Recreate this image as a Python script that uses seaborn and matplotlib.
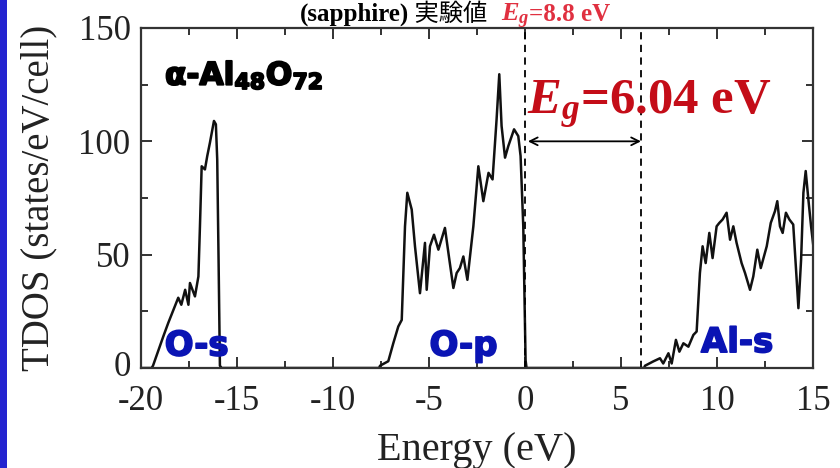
import matplotlib
matplotlib.use("Agg")
import matplotlib.pyplot as plt
from matplotlib.ticker import MultipleLocator
from matplotlib.patches import Rectangle
import matplotlib.transforms as mtransforms
import matplotlib.patheffects as pe
import seaborn as sns
import pandas as pd

# ---- data ----
energy = [-20.0, -19.45, -19.375, -18.84, -18.58, -18.06, -17.9, -17.7, -17.53, -17.45,
          -17.19, -17.01, -16.93, -16.84, -16.67, -16.55, -16.41, -16.2, -16.1, -16.03,
          -15.96, -15.89, -15.8, -7.6, -7.55, -7.12, -6.86, -6.6, -6.42, -6.25, -6.13,
          -5.9, -5.73, -5.47, -5.21, -5.12, -4.95, -4.74, -4.51, -4.17, -3.94, -3.73,
          -3.56, -3.39, -3.21, -3.0, -2.69, -2.43, -2.17, -1.9, -1.69, -1.48, -1.34,
          -1.22, -1.04, -0.87, -0.57, -0.35, -0.23, -0.09, 0.03, 0.08, 6.2, 6.25, 6.68,
          7.03, 7.2, 7.47, 7.64, 7.86, 8.04, 8.25, 8.51, 8.77, 8.94, 9.11, 9.25, 9.41,
          9.6, 9.77, 9.98, 10.12, 10.29, 10.5, 10.68, 10.85, 11.02, 11.28, 11.46, 11.72,
          11.89, 12.1, 12.28, 12.59, 12.8, 13.02, 13.14, 13.28, 13.42, 13.59, 13.77,
          13.97, 14.15, 14.24, 14.38, 14.5, 14.62, 14.76, 14.9, 15.02]
tdos = [0.0, 0.0, 1.0, 13.9, 19.9, 31.0, 27.9, 34.5, 27.9, 37.5,
        31.6, 40.4, 62.5, 89.0, 87.6, 93.5, 99.4, 109.0, 107.5, 92.0,
        47.8, 1.0, 0.0, 0.0, 1.0, 3.0, 10.9, 18.3, 21.2, 62.5, 77.3,
        69.9, 53.7, 33.0, 55.2, 34.5, 53.7, 58.8, 52.2, 61.8, 47.8, 35.3,
        41.9, 44.1, 49.2, 38.9, 62.5, 89.0, 73.6, 86.1, 83.2, 109.7, 129.6,
        106.8, 92.8, 97.9, 105.3, 102.3, 93.5, 62.5, 3.5, 0.0, 0.0, 1.0, 2.9,
        4.3, 2.0, 6.5, 2.0, 12.4, 7.2, 10.9, 9.4, 14.6, 16.1, 41.9, 53.7, 46.3,
        59.6, 48.5, 62.5, 64.0, 65.5, 68.5, 56.6, 62.5, 55.2, 46.3, 41.9, 34.5,
        40.4, 52.2, 44.1, 53.7, 64.0, 69.2, 73.6, 62.5, 59.6, 68.5, 65.5,
        63.3, 38.9, 26.4, 47.8, 77.3, 86.9, 74.3, 62.5, 53.7]

band_edges = [0.0, 6.04]          # VBM and CBM (dashed lines)
gap_value = 6.04
band_labels = ["O-s", "O-p", "Al-s"]
band_label_x = [-17.1, -3.2, 11.05]
band_label_y = [5.5, 5.5, 7.0]
x_ticks = [-20, -15, -10, -5, 0, 5, 10, 15]
y_ticks = [0, 50, 100, 150]

df = pd.DataFrame({"Energy": energy, "TDOS": tdos})

sns.set_theme(style="ticks")
plt.rcParams["font.family"] = ["Liberation Serif", "Noto Sans CJK JP", "DejaVu Sans"]
plt.rcParams["mathtext.fontset"] = "custom"
plt.rcParams["mathtext.it"] = "Liberation Serif:italic:bold"
plt.rcParams["mathtext.rm"] = "Liberation Serif:bold"
plt.rcParams["mathtext.bf"] = "Liberation Serif:bold"
plt.rcParams["mathtext.sf"] = "DejaVu Sans:bold"

fig = plt.figure(figsize=(8.4, 4.68), dpi=100)
fig.patch.set_facecolor("white")
ax = fig.add_axes([141 / 840, 100 / 468, 672 / 840, 340 / 468])

sns.lineplot(data=df, x="Energy", y="TDOS", ax=ax, color="#111111",
             linewidth=1.8, estimator=None, sort=False)

for e in band_edges:
    ax.axvline(e, color="black", linestyle=(0, (4, 3)), linewidth=1.3)

ax.annotate("", xy=(0.15, 100), xytext=(gap_value, 100),
            arrowprops=dict(arrowstyle="<->", color="black", lw=1.3,
                            shrinkA=0, shrinkB=0, mutation_scale=14))

ax.text(0.12, 112, r"$E_g$=6.04 eV", color="#c40d18", fontsize=36.5,
        fontweight="bold", family="Liberation Serif", ha="left", va="baseline")

heavy_black = [pe.withStroke(linewidth=1.4, foreground="black")]
ax.text(-18.75, 125, r"α-Al$_{\mathsf{48}}$O$_{\mathsf{72}}$", color="black",
        fontsize=22.5, fontweight="bold", family="DejaVu Sans", ha="left",
        va="baseline", path_effects=heavy_black)

heavy_blue = [pe.withStroke(linewidth=1.2, foreground="#0a14b4")]
for lab, lx, ly in zip(band_labels, band_label_x, band_label_y):
    ax.text(lx, ly, lab, color="#0a14b4", fontsize=24.5, fontweight="bold",
            family="DejaVu Sans", ha="center", va="baseline", path_effects=heavy_blue)

ax.set_xlim(-20, 15)
ax.set_ylim(0, 150)
ax.set_xticks(x_ticks)
ax.set_yticks(y_ticks)
ax.set_xticklabels([str(t) for t in x_ticks])
ax.xaxis.set_minor_locator(MultipleLocator(2.5))
ax.yaxis.set_minor_locator(MultipleLocator(25))
ax.tick_params(which="both", direction="in", top=True, right=True,
               width=1.3, colors="#222222", labelsize=25)
ax.tick_params(which="major", length=8)
ax.tick_params(which="minor", length=5)
ax.tick_params(axis="x", pad=12.5)
ax.tick_params(axis="y", pad=7.5)
for s in ax.spines.values():
    s.set_linewidth(1.6)
    s.set_color("#333333")

# lift the "0" y-tick label a little so it does not collide with "-20"
zero_label = ax.yaxis.get_major_ticks()[0].label1
zero_label.set_transform(zero_label.get_transform() +
                         mtransforms.ScaledTranslation(0, 3.5 / 72, fig.dpi_scale_trans))

ax.set_xlabel("Energy (eV)", fontsize=29, labelpad=9.5, color="#222222")
ax.set_ylabel("TDOS (states/eV/cell)", fontsize=28, labelpad=15, color="#222222")

# title line at the top of the slide, pieces chained left to right
t1 = fig.text(300 / 840, 0.955, "(sapphire)", fontsize=18, fontweight="bold",
              family="Liberation Serif", color="black", ha="left", va="baseline")
t2 = fig.text(0, 0, " 実験値", fontsize=17.5, family="Noto Sans CJK JP", color="black")
t3 = fig.text(0, 0, r"  $E_g$", fontsize=19, color="#e03040",
              family="Liberation Serif")
t4 = fig.text(0, 0, "=8.8 eV", fontsize=18, fontweight="bold",
              family="Liberation Serif", color="#e03040")
fig.canvas.draw()
prev = t1
for t in (t2, t3, t4):
    bb = prev.get_window_extent()
    inv = fig.transFigure.inverted()
    x_right = inv.transform((bb.x1, 0))[0]
    t.set_position((x_right, 0.955))
    t.set_ha("left")
    t.set_va("baseline")
    fig.canvas.draw()
    prev = t

# blue bar at the left edge of the slide
fig.patches.append(Rectangle((0, 0), 7 / 840, 1, transform=fig.transFigure,
                             facecolor="#2424d0", edgecolor="none", zorder=5))

fig.savefig("out.png", dpi=100)
